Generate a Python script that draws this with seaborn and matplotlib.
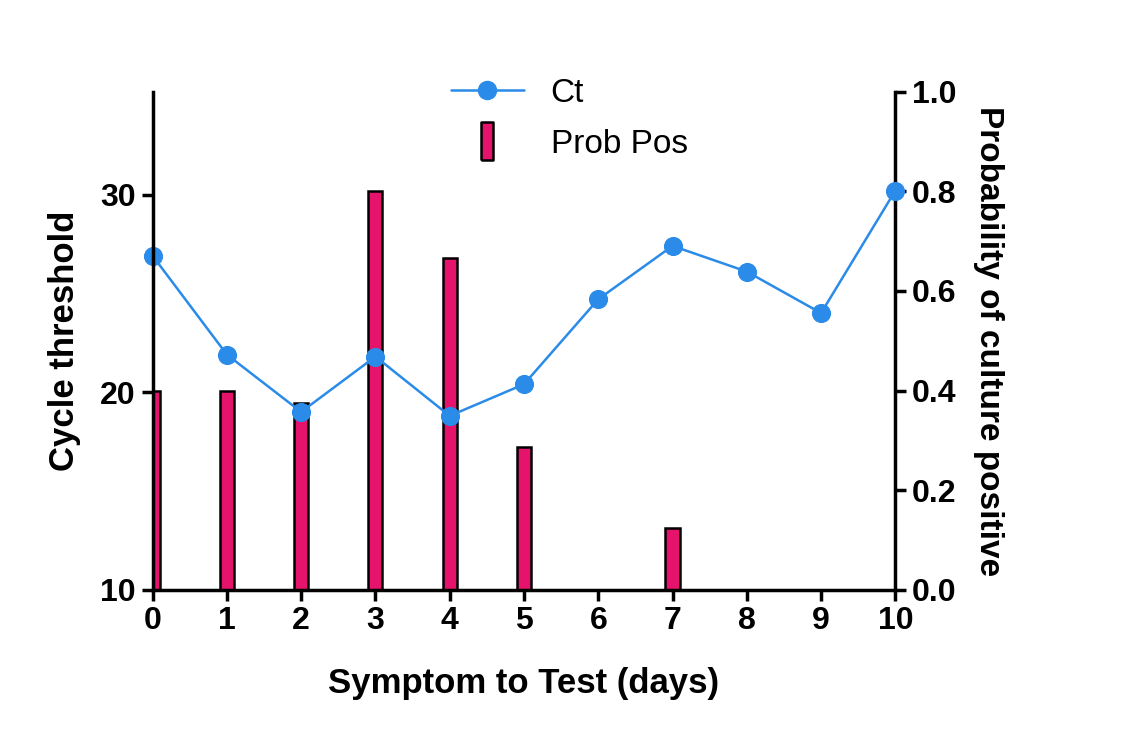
import numpy as np
import pandas as pd
import seaborn as sns
import matplotlib.pyplot as plt
from matplotlib.lines import Line2D

# data
days = [0, 1, 2, 3, 4, 5, 6, 7, 8, 9, 10]
ct = [26.9, 21.9, 19.0, 21.8, 18.8, 20.4, 24.7, 27.4, 26.1, 24.0, 30.2]
prob_pos = [0.40, 0.40, 0.375, 0.80, 0.667, 0.286, 0.0, 0.125, 0.0, 0.0, 0.0]

sns.set_style('ticks')
plt.rcParams['font.family'] = ['Liberation Sans', 'DejaVu Sans']
plt.rcParams['font.weight'] = 'bold'
plt.rcParams['text.color'] = 'black'
plt.rcParams['axes.labelcolor'] = 'black'
plt.rcParams['xtick.color'] = 'black'
plt.rcParams['ytick.color'] = 'black'

line_col = '#2a8be8'
bar_col = '#e6136d'

fig = plt.figure(figsize=(11.22, 7.4), dpi=100)
ax = fig.add_axes([0.136, 0.203, 0.662, 0.673])
ax2 = ax.twinx()

ax2.bar(days, prob_pos, width=0.19, color=bar_col, edgecolor='black', linewidth=1.8)
ax2.set_ylim(0, 1.0)
ax2.set_yticks([0, 0.2, 0.4, 0.6, 0.8, 1.0])
ax2.set_yticklabels(['0.0', '0.2', '0.4', '0.6', '0.8', '1.0'])

df = pd.DataFrame({'day': days, 'ct': ct})
sns.lineplot(data=df, x='day', y='ct', ax=ax, color=line_col, marker='o',
             markersize=13, markeredgecolor=line_col, linewidth=1.8, clip_on=False)
ax.set_zorder(ax2.get_zorder() + 1)
ax.patch.set_visible(False)

ax.set_xlim(0, 10)
ax.set_ylim(10, 35.2)
ax.set_yticks([10, 20, 30])
ax.set_xticks(days)
ax.set_xlabel('Symptom to Test (days)', fontsize=25, fontweight='bold', labelpad=22)
ax.set_ylabel('Cycle threshold', fontsize=25, fontweight='bold', labelpad=14)
ax2.set_ylabel('Probability of culture positive', fontsize=24, fontweight='bold',
               rotation=270, labelpad=34)

for a in (ax, ax2):
    a.tick_params(labelsize=23, width=2.5, length=8, pad=4)
    for lab in a.get_xticklabels() + a.get_yticklabels():
        lab.set_fontweight('bold')
    for s in a.spines.values():
        s.set_linewidth(2.5)
        s.set_color('black')
ax.spines['top'].set_visible(False)
ax2.spines['top'].set_visible(False)
ax.spines['right'].set_visible(False)
ax2.spines['left'].set_visible(False)
ax2.spines['bottom'].set_visible(False)

bar_marker = [(-0.3, -1), (0.3, -1), (0.3, 1), (-0.3, 1), (-0.3, -1)]
handles = [Line2D([0], [0], color=line_col, marker='o', markersize=13, linewidth=1.8),
           Line2D([0], [0], linestyle='none', marker=bar_marker, markersize=28,
                  markerfacecolor=bar_col, markeredgecolor='black', markeredgewidth=1.8)]
leg = fig.legend(handles, ['Ct', 'Prob Pos'], loc='upper left', bbox_to_anchor=(0.375, 0.935),
                 frameon=False, fontsize=24, handlelength=2.2, labelspacing=0.6)
for t in leg.get_texts():
    t.set_fontweight('normal')

fig.savefig('out.png', dpi=100)
